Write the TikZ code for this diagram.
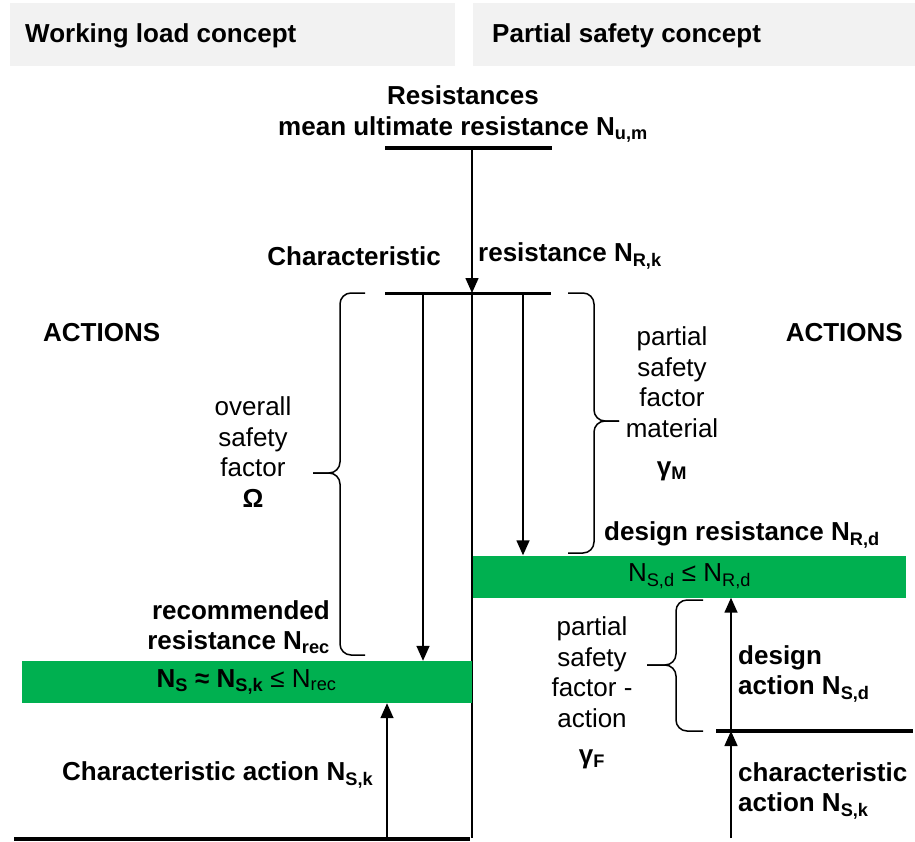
\documentclass[tikz,border=0pt]{standalone}
\usepackage{fontspec}
\setmainfont{Liberation Sans}
\usetikzlibrary{arrows.meta, positioning}
\definecolor{bargreen}{RGB}{0,176,80}
\definecolor{headgray}{RGB}{242,242,242}
\newcommand{\lo}[1]{\textsubscript{#1}}
\tikzset{
  txt/.style={inner sep=0pt, align=center, font=\fontsize{26}{30.5}\selectfont},
  boldtxt/.style={txt, font=\fontsize{26}{30.5}\selectfont\bfseries},
  headbox/.style={rectangle, fill=headgray, minimum height=63pt, inner sep=0pt},
  greenbar/.style={rectangle, fill=bargreen, minimum height=42pt, inner sep=0pt,
                   font=\fontsize{26}{30}\selectfont},
  arr/.style={-{Triangle[length=15pt, width=13pt]}, line width=1.5pt},
  thinline/.style={line width=1.5pt},
  thickline/.style={line width=3.5pt},
  curly/.style={line width=1.5pt, rounded corners=11pt},
}
\begin{document}
\begin{tikzpicture}[x=1pt, y=-1pt]
  \useasboundingbox (0,0) rectangle (915,841);

  \node[headbox, minimum width=445pt] (hboxW) at (232.5,34.5) {};
  \node[headbox, minimum width=442pt] (hboxP) at (694,34.5) {};
  \node[boldtxt, anchor=west] (headW) at (25,36) {Working load concept};
  \node[boldtxt, anchor=west] (headP) at (492,36) {Partial safety concept};

  \node[boldtxt] (resist) at (463,114)
    {Resistances\\mean ultimate resistance N\lo{u,m}};

  \coordinate (meanL) at (385,148);
  \coordinate (meanR) at (552,148);
  \coordinate (meanM) at (472,148);
  \coordinate (charL) at (385,293);
  \coordinate (charR) at (551,293);
  \coordinate (charM) at (472,293);
  \coordinate (charA) at (423,293);
  \coordinate (charB) at (523,293);
  \coordinate (baseM) at (472,838);

  \draw[thickline] (meanL) -- (meanR);
  \draw[arr] (meanM) -- (charM);
  \draw[thickline, line width=3pt] (charL) -- (charR);
  \draw[thinline] (charM) -- (baseM);

  \node[boldtxt, anchor=east] (charTxtL) at (441,256) {Characteristic};
  \node[boldtxt, anchor=west] (charTxtR) at (478,256) {resistance N\lo{R,k}};

  \node[boldtxt, anchor=west] (actW) at (43,333) {ACTIONS};
  \node[boldtxt, anchor=east] (actP) at (903,333) {ACTIONS};

  \node[greenbar, minimum width=450pt] (barW) at (246.5,682)
    {\textbf{N\lo{S} ≈ N\lo{S,k}} ≤ N\lo{rec}};
  \node[greenbar, minimum width=433pt] (barP) at (689.5,576.5)
    {N\lo{S,d} ≤ N\lo{R,d}};

  \draw[arr] (charA) -- (charA |- barW.north);
  \draw[arr] (charB) -- (charB |- barP.north);

  \coordinate (tipW) at (313,473);
  \draw[curly] (365,293) -- (340,293) -- (340,473) -- (tipW);
  \draw[curly] (365,655) -- (340,655) -- (340,473) -- (tipW);
  \coordinate (tipM) at (619,421);
  \draw[curly] (568,293) -- (594,293) -- (594,421) -- (tipM);
  \draw[curly] (568,553) -- (594,553) -- (594,421) -- (tipM);

  \node[txt] (omega) at (253,452) {overall\\safety\\factor\\\textbf{Ω}};
  \node[txt] (gammaM) at (672,404)
    {partial\\safety\\factor\\material\\[8pt]\textbf{γ\lo{M}}};
  \node[boldtxt, align=right, anchor=east] (recom) at (330,627)
    {recommended\\resistance N\lo{rec}};
  \node[boldtxt, anchor=west] (desRes) at (604,535) {design resistance N\lo{R,d}};

  \coordinate (baseL) at (14,839);
  \coordinate (baseR) at (470,839);
  \coordinate (actA) at (387,838);
  \draw[thickline, line width=4pt] (baseL) -- (baseR);
  \draw[arr] (actA) -- (actA |- barW.south);
  \node[boldtxt, anchor=west] (charAct) at (62,775) {Characteristic action N\lo{S,k}};

  \coordinate (desL) at (716,731);
  \coordinate (desR) at (913,731);
  \coordinate (desA) at (731,731);
  \coordinate (baseP) at (731,838);
  \draw[thickline] (desL) -- (desR);
  \draw[arr] (desA) -- (desA |- barP.south);
  \draw[arr] (baseP) -- (desA);

  \coordinate (tipP) at (647,665);
  \draw[curly] (703,600) -- (676,600) -- (676,665) -- (tipP);
  \draw[curly] (703,731) -- (676,731) -- (676,665) -- (tipP);
  \node[txt] (gammaF) at (592,693)
    {partial\\safety\\factor -\\action\\[6pt]\textbf{γ\lo{F}}};
  \node[boldtxt, align=left, anchor=west] (desAct) at (738,674)
    {design\\action N\lo{S,d}};
  \node[boldtxt, align=left, anchor=west] (charActP) at (738,791)
    {characteristic\\action N\lo{S,k}};
\end{tikzpicture}
\end{document}
